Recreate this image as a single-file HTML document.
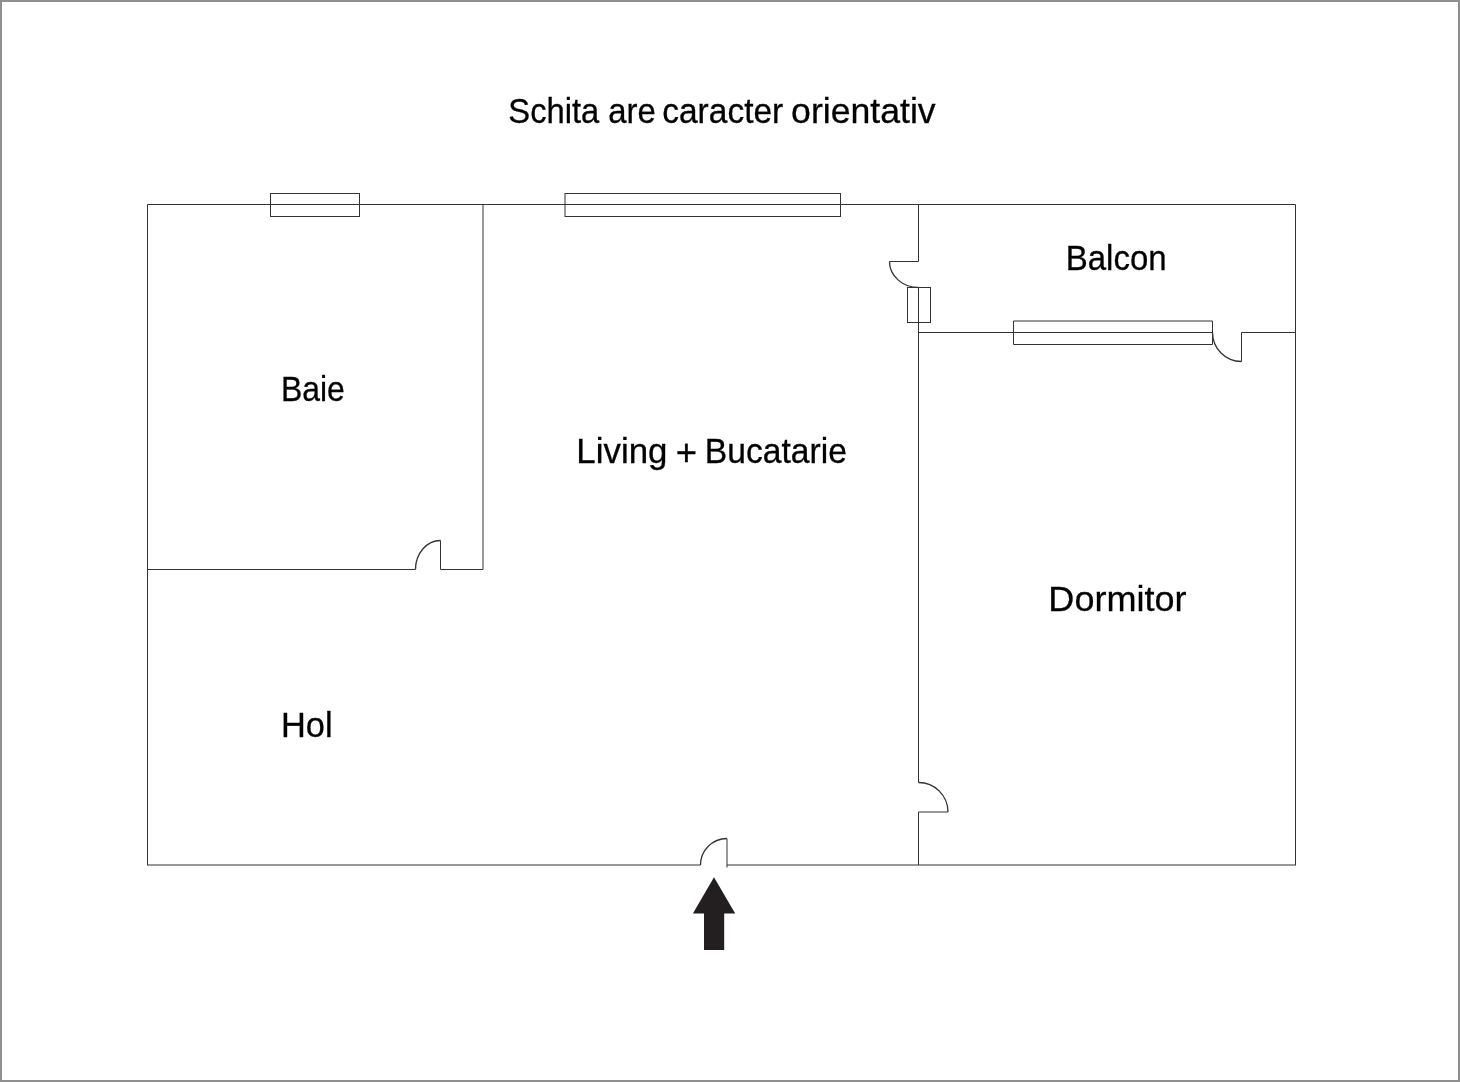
<!DOCTYPE html>
<html>
<head>
<meta charset="utf-8">
<style>
html,body{margin:0;padding:0;background:#fff;}
body{width:1460px;height:1082px;overflow:hidden;position:relative;}
#frame{position:absolute;left:0;top:0;width:1456px;height:1078px;border:2px solid #8f8f8f;}
svg{position:absolute;left:0;top:0;}
.arc{stroke-width:1.3;}
text{font-family:"Liberation Sans",sans-serif;fill:#000;stroke:#000;stroke-width:0.3;}
</style>
</head>
<body>
<div id="frame"></div>
<svg width="1460" height="1082" viewBox="0 0 1460 1082">
<g fill="none" stroke="#333" stroke-width="1">
  <!-- outer walls -->
  <path d="M147.5 865V204.5H1295.5V865"/>
  <path d="M147 865H700.5M727 865H1296"/>
  <!-- top windows -->
  <rect x="270.5" y="193.5" width="89" height="23"/>
  <rect x="565" y="193.5" width="275.5" height="23"/>
  <!-- Baie walls -->
  <path d="M483 204.5V569.5"/>
  <path d="M147.5 569.5H415.5M440.5 569.5H483"/>
  <path d="M440.5 540.5V569.5"/>
  <path class="arc" d="M415.5 569.5A25 29 0 0 1 440.5 540.5"/>
  <!-- wall x=918 -->
  <path d="M918.5 204.5V261.5H889.5M918.5 287.5V782.5M948 812H918.5V865"/>
  <path class="arc" d="M889.5 261.5A29 26 0 0 0 918.5 287.5M918.5 782.5A29.5 29.5 0 0 1 948 812"/>
  <rect x="907.5" y="287.5" width="23" height="35"/>
  <!-- balcony wall -->
  <path d="M918.5 332.5H1212.5M1241.5 332.5H1295.5"/>
  <path d="M1013.5 321H1212.5V344.5H1013.5Z"/>
  <path d="M1241.5 361.5V332.5"/>
  <path class="arc" d="M1212.5 332.5A29 29 0 0 0 1241.5 361.5"/>
  <!-- entry door -->
  <path d="M727 838.5V867.5"/>
  <path class="arc" d="M700.5 865A26.5 26.5 0 0 1 727 838.5"/>
</g>
<polygon fill="#231f20" points="714,877.3 735.2,913.6 724.2,913.6 724.2,950 704,950 704,913.6 692.9,913.6"/>
<g font-size="34.5" opacity="0.999">
  <text transform="translate(508.30 122.7) scale(0.9489 1)">Schita</text>
  <text transform="translate(608.19 122.7) scale(0.9543 1)">are</text>
  <text transform="translate(662.16 122.7) scale(0.9721 1)">caracter</text>
  <text transform="translate(791.07 122.7) scale(1.0331 1)">orientativ</text>
  <text transform="translate(1065.73 269.7) scale(0.9570 1)">Balcon</text>
  <text transform="translate(280.92 400.6) scale(0.9266 1)">Baie</text>
  <text transform="translate(576.37 462.8) scale(1.0106 1)">Living</text>
  <text transform="translate(675.68 464.6) scale(1.0588 1.05)">+</text>
  <text transform="translate(704.87 462.8) scale(0.9752 1)">Bucatarie</text>
  <text transform="translate(1048.37 610.6) scale(1.0450 1)">Dormitor</text>
  <text transform="translate(280.91 736.7) scale(0.9978 1)">Hol</text>
</g>
</svg>
</body>
</html>
